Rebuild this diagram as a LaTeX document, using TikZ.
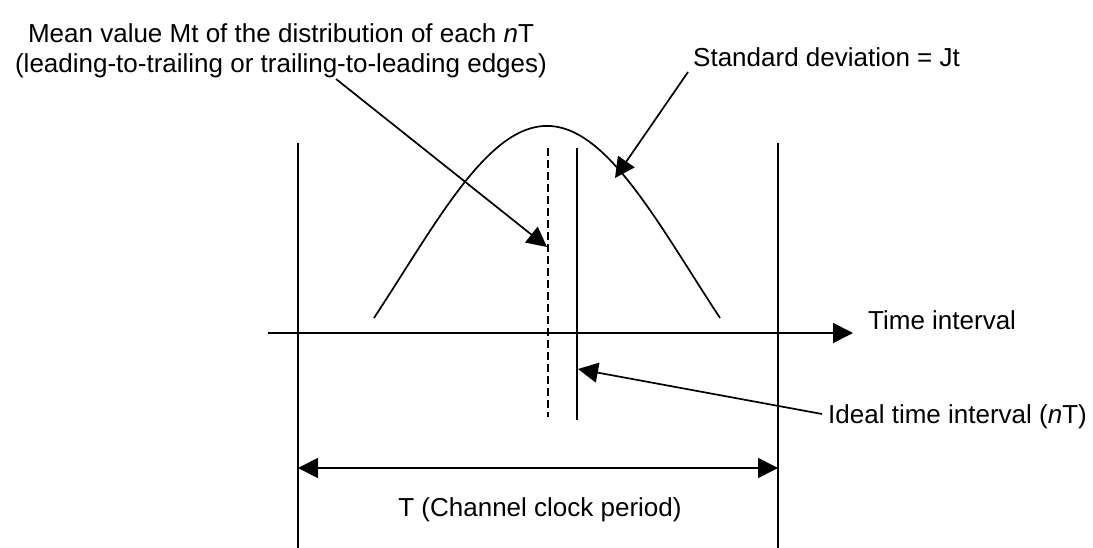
\documentclass[tikz,border=0pt]{standalone}
\usepackage{fontspec}
\setmainfont{Liberation Sans}
\usetikzlibrary{arrows.meta}
\begin{document}
\begin{tikzpicture}[x=1pt,y=-1pt,
  ln/.style={line width=1.7pt},
  tip/.style={-{Triangle[length=20pt,width=20pt]}},
  arr/.style={ln,tip},
  lbl/.style={font=\fontsize{26}{30}\selectfont, inner sep=0pt},
  dsh/.style={ln,dash pattern=on 8pt off 4pt}
]
\useasboundingbox[fill=white] (0,0) rectangle (1093,548);

% frame lines
\coordinate (Ltop) at (298,143);
\coordinate (Lbot) at (298,548);
\coordinate (Rtop) at (778,143);
\coordinate (Rbot) at (778,548);
\draw[ln] (Ltop) -- (Lbot);
\draw[ln] (Rtop) -- (Rbot);

% time axis
\coordinate (axL) at (268,333);
\coordinate (axR) at (853,333);
\draw[arr] (axL) -- (axR);

% distribution curve
\draw[ln] plot[domain=374:720, samples=120, smooth] (\x, {500-374*exp(-((\x-547)/100)^2/4.1568)});

% mean (dashed) and ideal (solid) lines
\coordinate (mTop) at (548,148);
\coordinate (mBot) at (548,417);
\coordinate (iTop) at (577,148);
\coordinate (iBot) at (577,420);
\draw[dsh] (mTop) -- (mBot);
\draw[ln] (iTop) -- (iBot);

% labels
\node[lbl, align=center, anchor=north] (meanlbl) at (281,23)
  {Mean value Mt of the distribution of each \textit{n}T\\(leading-to-trailing or trailing-to-leading edges)};
\node[lbl, anchor=base west] (stdlbl) at (693,67) {Standard deviation = Jt};
\node[lbl, anchor=base west] (timelbl) at (868,330) {Time interval};
\node[lbl, anchor=base west] (ideallbl) at (828,423) {Ideal time interval (\textit{n}T)};
\node[lbl, anchor=base] (periodlbl) at (540,516) {T (Channel clock period)};

% pointer arrows
\coordinate (meanS) at (336,79);
\coordinate (meanT) at (547,247);
\draw[arr] (meanS) -- (meanT);
\coordinate (stdS) at (688,72);
\coordinate (stdT) at (615,178);
\draw[arr] (stdS) -- (stdT);
\coordinate (idS) at (822,414);
\coordinate (idT) at (578,369);
\draw[arr] (idS) -- (idT);

% period arrow
\coordinate (pL) at (298,468);
\coordinate (pR) at (778,468);
\draw[ln,{Triangle[length=20pt,width=20pt]}-{Triangle[length=20pt,width=20pt]}] (pL) -- (pR);
\end{tikzpicture}
\end{document}
